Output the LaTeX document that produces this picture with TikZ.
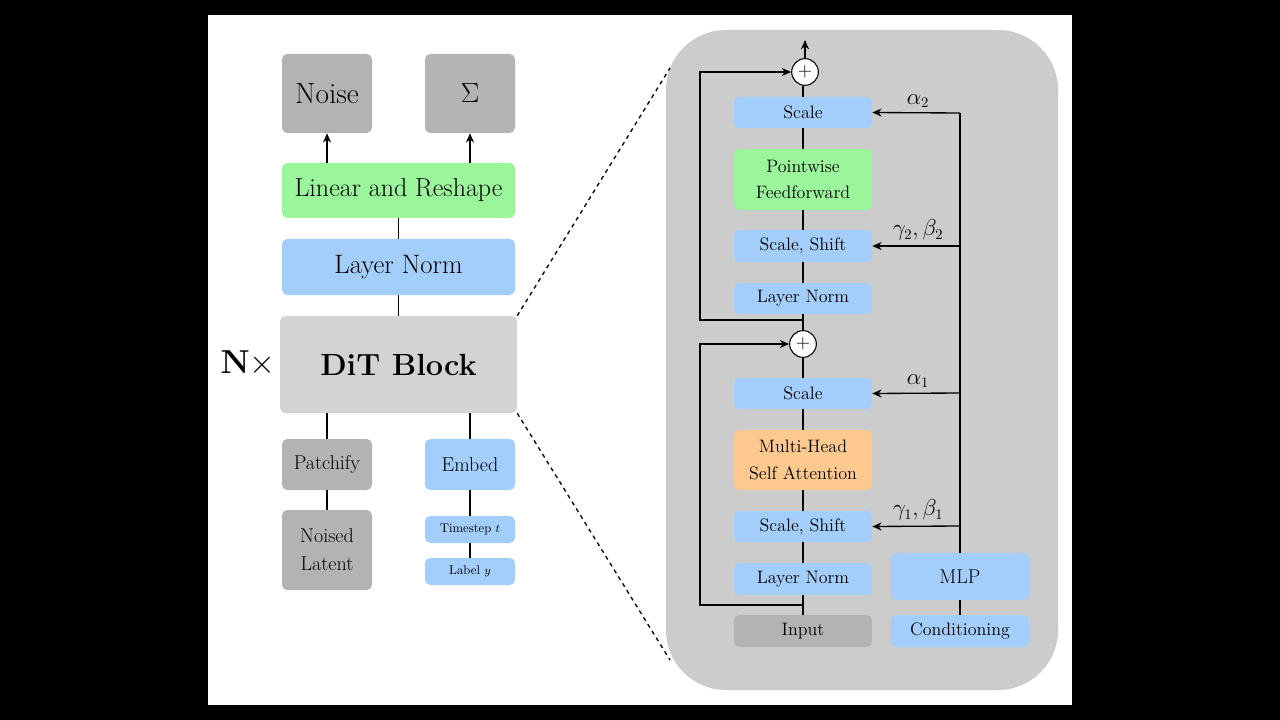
\documentclass[tikz,border=0pt]{standalone}
\usetikzlibrary{arrows.meta}
\definecolor{gb}{HTML}{B3B3B3}
\definecolor{bl}{HTML}{A3CDFA}
\definecolor{gr}{HTML}{9AF59B}
\definecolor{or}{HTML}{FDC98F}
\definecolor{pn}{HTML}{CCCCCC}
\definecolor{dit}{HTML}{D3D3D3}
\begin{document}
\begin{tikzpicture}[x=0.75pt,y=-0.75pt,
 bx/.style={draw=none,rounded corners=4pt,inner sep=0pt,align=center},
 ar/.style={-{Stealth[length=7pt,width=6pt]},line width=1pt},
 ln/.style={line width=1pt}]
\fill[black](0,0)rectangle(1280,720);
\fill[white](208,15)rectangle(1072,705);
\fill[pn,rounded corners=45pt](666,30)rectangle(1058,690);
\newcommand{\bxx}[6]{\node[bx,fill=#5,minimum width={(#2-#1)*0.75pt},minimum height={(#4-#3)*0.75pt}] (#6) at ({(#1+#2)/2},{(#3+#4)/2}) {};}
% left
\bxx{282}{372}{54}{133}{gb}{noise}\node[font=\fontsize{22}{26}\selectfont] at (noise){Noise};
\bxx{425}{515}{54}{133}{gb}{sig}\node[font=\fontsize{22}{26}\selectfont] at (sig){$\Sigma$};
\bxx{282}{515}{163}{218}{gr}{lin}\node[font=\fontsize{19.5}{23}\selectfont] at (lin){Linear and Reshape};
\bxx{282}{515}{239}{295}{bl}{lnorm}\node[font=\fontsize{20}{23}\selectfont] at (lnorm){Layer Norm};
\bxx{280}{517}{316}{413}{dit}{dit}\node[font=\fontsize{23}{26}\selectfont\bfseries] at (dit){DiT Block};
\node[font=\fontsize{23}{26}\selectfont] (nx) at (248,364){$\mathbf{N}\times$};
\bxx{282}{372}{439}{490}{gb}{patch}\node[font=\fontsize{15}{18}\selectfont] at (patch){Patchify};
\bxx{282}{372}{510}{590}{gb}{lat}\node[font=\fontsize{15}{21}\selectfont,align=center] at (lat){Noised\\Latent};
\bxx{425}{515}{439}{490}{bl}{emb}\node[font=\fontsize{15}{18}\selectfont] at (emb){Embed};
\bxx{425}{515}{516}{543}{bl}{ts}\node[font=\fontsize{9.5}{11}\selectfont] at (ts){Timestep $t$};
\bxx{425}{515}{558}{585}{bl}{lab}\node[font=\fontsize{9.5}{11}\selectfont] at (lab){Label $y$};
\draw[ar](327,163)--(noise.south);
\draw[ar](470,163)--(sig.south);
\draw[ln](lin.south)--(lnorm.north);
\draw[ln](lnorm.south)--(dit.north);
\draw[ln](327,413)--(patch.north);\draw[ln](patch.south)--(lat.north);
\draw[ln](470,413)--(emb.north);\draw[ln](emb.south)--(ts.north);\draw[ln](ts.south)--(lab.north);
\coordinate (d1) at (670,68);\coordinate (d2) at (670,660);
\draw[line width=1pt,dashed](dit.north east)--(d1);
\draw[line width=1pt,dashed](dit.south east)--(d2);
% right
\tikzset{rt/.style={font=\fontsize{13.5}{16}\selectfont,align=center}}
\bxx{734}{872}{97}{128}{bl}{sc2}\node[rt] at (sc2){Scale};
\bxx{734}{872}{149}{210}{gr}{ff}\node[rt] at (ff){Pointwise\\[4pt]Feedforward};
\bxx{734}{872}{230}{262}{bl}{ss2}\node[rt] at (ss2){Scale, Shift};
\bxx{734}{872}{283}{314}{bl}{ln2}\node[rt] at (ln2){Layer Norm};
\bxx{734}{872}{378}{409}{bl}{sc1}\node[rt] at (sc1){Scale};
\bxx{734}{872}{430}{490}{or}{att}\node[rt] at (att){Multi-Head\\[4pt]Self Attention};
\bxx{734}{872}{511}{542}{bl}{ss1}\node[rt] at (ss1){Scale, Shift};
\bxx{734}{872}{563}{595}{bl}{ln1}\node[rt] at (ln1){Layer Norm};
\bxx{734}{872}{615}{647}{gb}{inp}\node[rt] at (inp){Input};
\bxx{891}{1029}{553}{600}{bl}{mlp}\node[font=\fontsize{15}{18}\selectfont] at (mlp){MLP};
\bxx{891}{1029}{615}{647}{bl}{cond}\node[rt] at (cond){Conditioning};
\node[circle,draw,thick,fill=white,minimum size=20pt,inner sep=0pt] (p1) at (803,344){\Large $+$};
\node[circle,draw,thick,fill=white,minimum size=20pt,inner sep=0pt] (p2) at (805,72){\Large $+$};
\coordinate (top) at (805,40);
\draw[ar](p2)--(top);
\draw[ln](inp.north)--(ln1.south);
\draw[ln](ln1.north)--(ss1.south);\draw[ln](ss1.north)--(att.south);
\draw[ln](att.north)--(sc1.south);\draw[ln](sc1.north)--(p1);
\draw[ln](p1)--(ln2.south);\draw[ln](ln2.north)--(ss2.south);
\draw[ln](ss2.north)--(ff.south);\draw[ln](ff.north)--(sc2.south);
\draw[ln](sc2.north)--(sc2.north|-p2.south);
\draw[ar](803,605)--(700,605)--(700,344)--(p1);
\draw[ar](803,320)--(700,320)--(700,72)--(p2);
\draw[ln](cond.north)--(mlp.south);
\draw[ln](mlp.north)--(960,113);
\draw[ar](960,113)--(sc2.east);
\draw[ar](960,246)--(ss2.east);
\draw[ar](960,393)--(sc1.east);
\draw[ar](960,526)--(ss1.east);
\node (a2) at (918,101){\fontsize{16}{18}\selectfont $\alpha_2$};
\node (g2) at (918,230){\fontsize{16}{18}\selectfont $\gamma_2,\beta_2$};
\node (a1) at (918,381){\fontsize{16}{18}\selectfont $\alpha_1$};
\node (g1) at (918,510){\fontsize{16}{18}\selectfont $\gamma_1,\beta_1$};
\end{tikzpicture}
\end{document}
